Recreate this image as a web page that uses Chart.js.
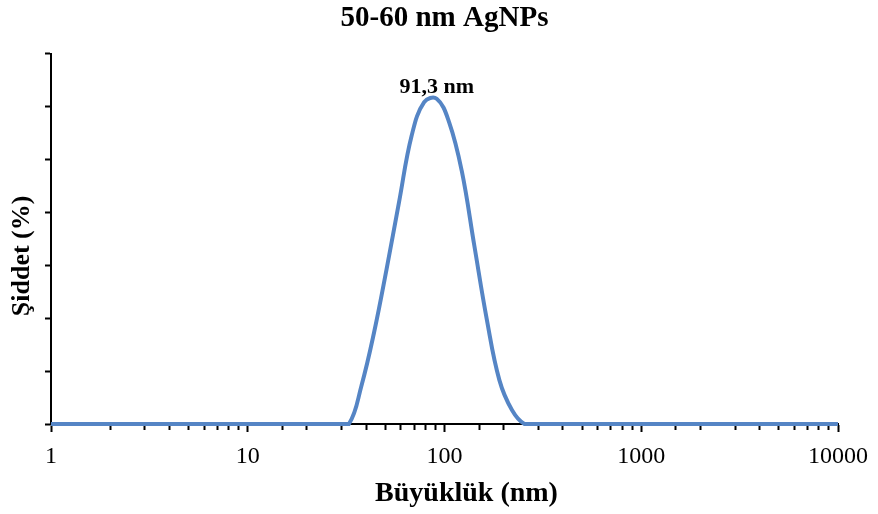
<!DOCTYPE html>
<html>
<head>
<meta charset="utf-8">
<script src="https://cdn.jsdelivr.net/npm/chart.js@4/dist/chart.umd.min.js"></script>
<style>
  html, body { margin: 0; padding: 0; background: #fff; }
  #wrap { width: 878px; height: 514px; }
</style>
</head>
<body>
<div id="wrap"><canvas id="c" width="878" height="514"></canvas></div>
<script>
// Größenverteilung (DLS-Klassen), Werte
var sizes = [1, 10, 24.36, 28.21, 32.67, 37.84, 43.82, 50.75, 58.77, 68.06, 78.82, 91.28, 105.7, 122.4, 141.8, 164.2, 190.1, 220.2, 255.0, 295.3, 1000, 10000];
var intensity = [0, 0, 0, 0, 0, 1.45, 3.45, 5.85, 8.40, 10.90, 12.17, 12.30, 11.40, 9.57, 6.74, 3.94, 1.66, 0.53, 0, 0, 0, 0];
var peakLabel = '91,3 nm';
var xTitle = 'Büyüklük (nm)';
var yTitle = 'Şiddet (%)';
var yTicks = [0, 2, 4, 6, 8, 10, 12, 14];

var serif = '"Liberation Serif", "DejaVu Serif", serif';
function isPow10(v) { var l = Math.log10(v); return Math.abs(l - Math.round(l)) < 1e-9; }

// Beschriftungen: Maximum + Achsentitel (in der Vorlage leicht versetzt)
var labelPlugin = {
  id: 'labels',
  afterDatasetsDraw: function (chart) {
    var i = intensity.indexOf(Math.max.apply(null, intensity));
    var x = chart.scales.x.getPixelForValue(sizes[i]);
    var y = chart.scales.y.getPixelForValue(intensity[i]);
    var a = chart.chartArea;
    var ctx = chart.ctx;
    ctx.save();
    ctx.fillStyle = '#000';
    ctx.textAlign = 'center';
    ctx.font = 'bold 22px ' + serif;
    ctx.textBaseline = 'alphabetic';
    ctx.fillText(peakLabel, x, y - 6);

    ctx.textBaseline = 'middle';
    ctx.font = 'bold 28px ' + serif;
    ctx.fillText(xTitle, (a.left + a.right) / 2 + 22, 494);

    ctx.translate(22, (a.top + a.bottom) / 2 + 17);
    ctx.rotate(-Math.PI / 2);
    ctx.font = 'bold 26px ' + serif;
    ctx.fillText(yTitle, 0, 0);
    ctx.restore();
  }
};

new Chart(document.getElementById('c').getContext('2d'), {
  type: 'line',
  data: {
    datasets: [{
      data: sizes.map(function (s, i) { return { x: s, y: intensity[i] }; }),
      borderColor: '#5585c5',
      borderWidth: 4,
      pointRadius: 0,
      tension: 0.4,
      fill: false,
      clip: false
    }]
  },
  options: {
    responsive: false,
    animation: false,
    layout: { padding: { left: 0, right: 40, top: 0, bottom: 0 } },
    plugins: {
      legend: { display: false },
      tooltip: { enabled: false },
      title: {
        display: true,
        fullSize: false,
        text: '50-60 nm AgNPs',
        color: '#000',
        font: { family: serif, size: 29, weight: 'bold' },
        padding: { top: 1, bottom: 18 }
      }
    },
    scales: {
      x: {
        type: 'logarithmic',
        min: 1, max: 10000,
        afterFit: function (s) { s.height = 90; },
        border: { display: true, color: '#000', width: 2 },
        grid: {
          drawOnChartArea: false,
          drawTicks: true,
          tickLength: 8,
          tickWidth: 2,
          tickColor: '#000',
          tickBorderDash: function (ctx) { return ctx.tick && isPow10(ctx.tick.value) ? [] : [5, 20]; }
        },
        ticks: {
          autoSkip: false,
          maxRotation: 0,
          padding: 10,
          color: '#000',
          font: { family: serif, size: 24 },
          callback: function (v) { return isPow10(v) ? String(v) : ''; }
        }
      },
      y: {
        min: 0, max: 14,
        afterFit: function (s) { s.width = 51; },
        afterBuildTicks: function (s) { s.ticks = yTicks.map(function (v) { return { value: v }; }); },
        border: { display: true, color: '#000', width: 2 },
        grid: { drawOnChartArea: false, drawTicks: true, tickLength: 6, tickWidth: 2, tickColor: '#000' },
        ticks: { display: false }
      }
    }
  },
  plugins: [labelPlugin]
});
</script>
</body>
</html>
